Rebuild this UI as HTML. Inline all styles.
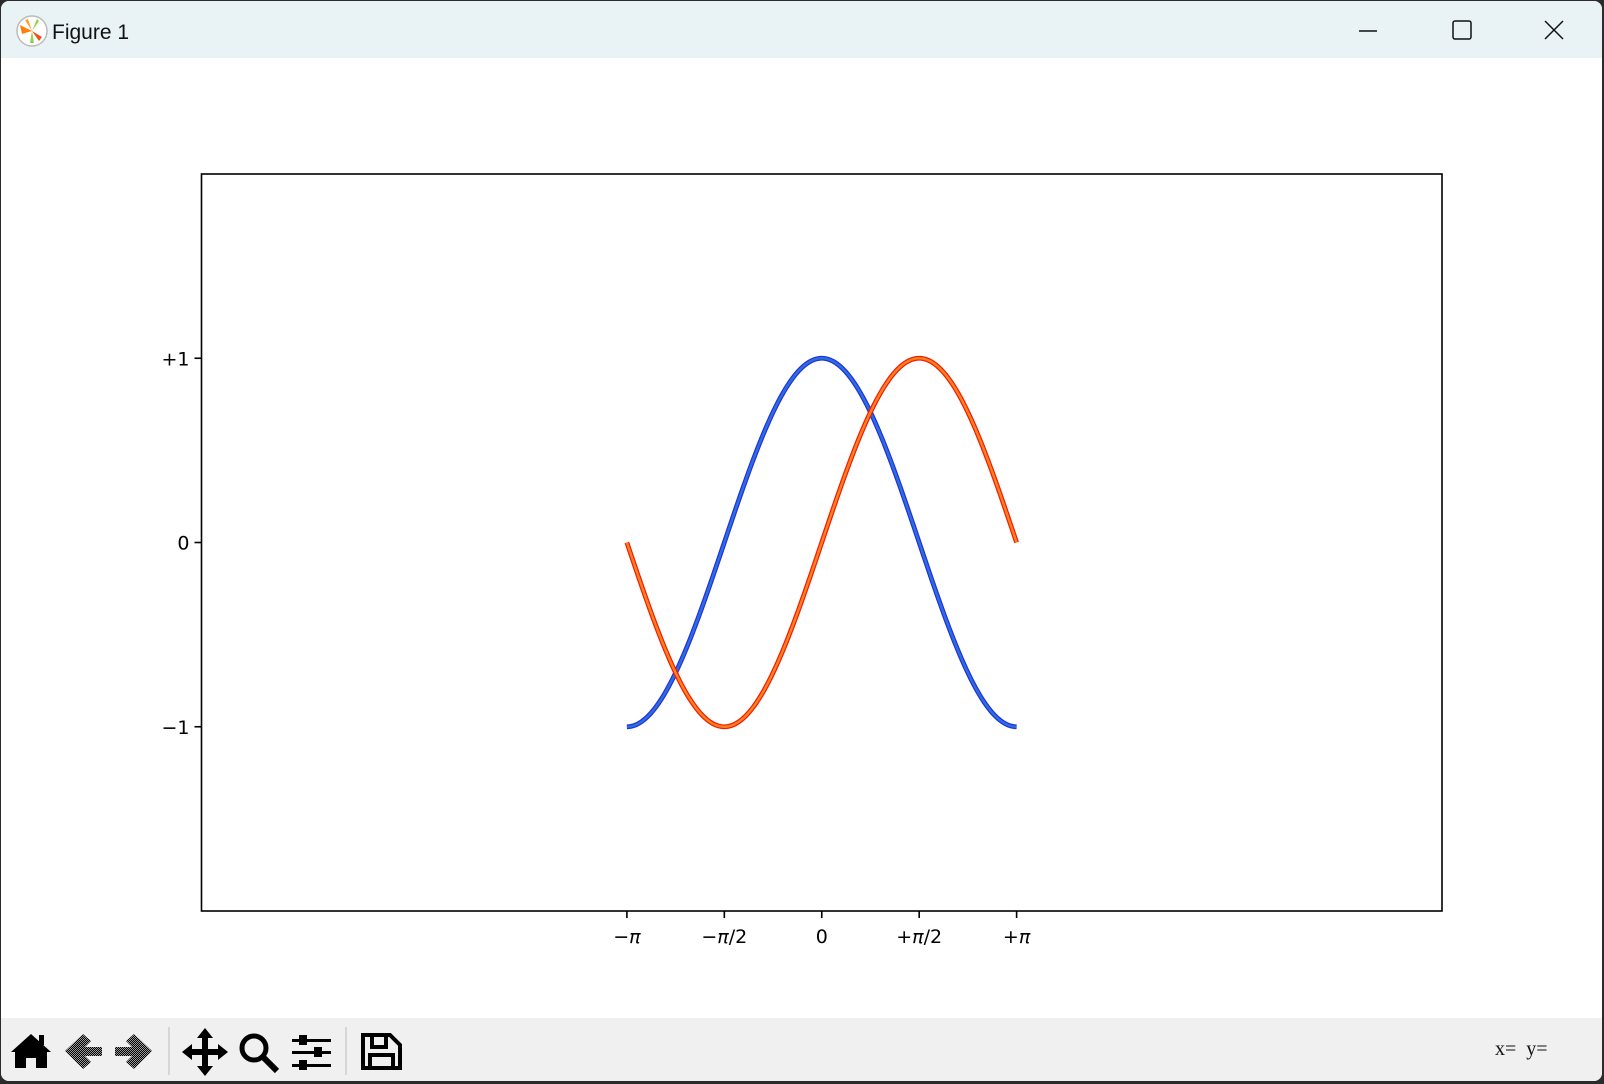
<!DOCTYPE html>
<html><head><meta charset="utf-8"><style>
html,body{margin:0;padding:0;width:1604px;height:1084px;overflow:hidden;background:#2b2b2b;}
#win{position:absolute;left:1px;top:1px;width:1601px;height:1080px;background:#fff;border-radius:8px;overflow:hidden;}
#titlebar{position:absolute;left:0;top:0;width:100%;height:57px;background:#e9f3f6;}
#toolbar{position:absolute;left:0;top:1017px;width:100%;height:63px;background:#f0f0f0;}
.tk{font-family:"DejaVu Sans","Liberation Sans",sans-serif;}
</style></head><body>
<div id="win">
<div id="titlebar">
<svg width="1601" height="57">
<g>
<circle cx="31" cy="30" r="15" fill="#fff" stroke="#bbb" stroke-width="1.5"/>
<path d="M31 30 L19 24 L21 33 Z" fill="#ff7f0e"/><path d="M31 30 L38 40 L41 36 Z" fill="#e8541a"/>
<path d="M31 30 L29 42 L33 42 Z" fill="#8fd14f"/><path d="M31 30 L36 18 L38 20 Z" fill="#8fd14f"/>
<path d="M31 30 L24 19 L27 18 Z" fill="#ff9f2e"/>
</g>
<text x="51" y="38" style="font-family:'Liberation Sans',sans-serif" font-size="21" fill="#111">Figure 1</text>
<line x1="1358" y1="30" x2="1376" y2="30" stroke="#111" stroke-width="1.5"/>
<rect x="1452" y="20" width="18" height="18" fill="none" stroke="#111" stroke-width="1.5" rx="2"/>
<path d="M1544 20 L1562 38 M1562 20 L1544 38" stroke="#111" stroke-width="1.5"/>
</svg></div>

<svg id="plot" style="position:absolute;left:-1px;top:-1px" width="1604" height="1017">
<g id="curves"></g>
<rect x="201.5" y="174" width="1240.5" height="737" fill="none" stroke="#000" stroke-width="1.6"/>
<g id="xticks"></g><g id="yticks"></g>
</svg>

<div id="toolbar">
<svg width="1601" height="63">
<defs><pattern id="hatch" width="2" height="2" patternUnits="userSpaceOnUse"><rect width="1" height="1" fill="#000"/><rect x="1" y="1" width="1" height="1" fill="#000"/><rect x="1" width="1" height="1" fill="#999"/><rect y="1" width="1" height="1" fill="#999"/></pattern></defs>
<g><path d="M10 34 L30 16 L50 34 L46 34 L46 50 L35 50 L35 40 L25 40 L25 50 L14 50 L14 34 Z" fill="#000"/><rect x="38" y="17" width="5" height="10" fill="#000"/></g>
<path d="M64 33 L82 16 L90 23 L84 29 L101 29 L101 38 L84 38 L90 44 L82 51 Z" fill="url(#hatch)"/>
<path d="M151 33 L133 16 L125 23 L131 29 L114 29 L114 38 L131 38 L125 44 L133 51 Z" fill="url(#hatch)"/>
<line x1="168" y1="9" x2="168" y2="57" stroke="#bbb"/>
<g fill="#000"><rect x="201" y="18" width="6" height="32"/><rect x="185" y="31" width="38" height="6"/><path d="M204 10 L212 20 L196 20 Z M204 58 L212 48 L196 48 Z M181 34 L191 26 L191 42 Z M227 34 L217 26 L217 42 Z"/></g>
<g><circle cx="253" cy="30" r="12" fill="none" stroke="#000" stroke-width="5"/><line x1="262" y1="39" x2="276" y2="53" stroke="#000" stroke-width="6"/></g>
<g fill="#000"><rect x="291" y="21" width="39" height="3"/><rect x="291" y="33" width="39" height="3"/><rect x="291" y="46" width="39" height="3"/><rect x="298" y="17" width="8" height="10"/><rect x="313" y="29" width="8" height="10"/><rect x="298" y="42" width="8" height="10"/></g>
<line x1="345" y1="9" x2="345" y2="57" stroke="#bbb"/>
<g><path d="M362 17 L389 17 L399 27 L399 50 L362 50 Z" fill="none" stroke="#000" stroke-width="4"/><rect x="371" y="17" width="14" height="12" fill="none" stroke="#000" stroke-width="4"/><rect x="369" y="37" width="23" height="13" fill="none" stroke="#000" stroke-width="4"/></g>
<text x="1494" y="37" style="font-family:'Liberation Serif',serif;white-space:pre" font-size="20" fill="#111" xml:space="preserve">x=  y=</text>
</svg></div>
</div>
<script>
const xTickVals=[-Math.PI,-Math.PI/2,0,Math.PI/2,Math.PI];
const xTickLabels=["\u2212\u03c0","\u2212\u03c0/2","0","+\u03c0/2","+\u03c0"];
const yTickVals=[-1,0,1];
const yTickLabels=["\u22121","0","+1"];
const xMin=-10,xMax=10,yMin=-2,yMax=2;
const ns="http://www.w3.org/2000/svg";
const L=201.5,R=1442,T=174,B=911;
function sx(v){return L+(v-xMin)/(xMax-xMin)*(R-L);}
function sy(v){return B-(v-yMin)/(yMax-yMin)*(B-T);}
const N=256;
const xs=[];for(let i=0;i<N;i++)xs.push(-Math.PI+2*Math.PI*i/(N-1));
const cosVals=xs.map(Math.cos), sinVals=xs.map(Math.sin);
function mk(t,a){const e=document.createElementNS(ns,t);for(const k in a)e.setAttribute(k,a[k]);return e;}
const cg=document.getElementById('curves');
function draw(vals,outer,inner,name){
  const d=xs.map((x,i)=>(i?'L':'M')+sx(x).toFixed(2)+' '+sy(vals[i]).toFixed(2)).join(' ');
  const g=mk('g',{});
  
  
  g.appendChild(mk('path',{d:d,fill:'none',stroke:outer,'stroke-width':4.8}));
  g.appendChild(mk('path',{d:d,fill:'none',stroke:inner,'stroke-width':2.4}));
  cg.appendChild(g);
}
draw(cosVals,'#1f2fe6','#2e6fd6','cosine-line');
draw(sinVals,'#f21a00','#ff8020','sine-line');
function label(str,x,y,anchor){
  const t=mk('text',{x:x,y:y,'text-anchor':anchor,'font-size':19,fill:'#000','class':'tk'});
  const parts=str.split('\u03c0');
  t.appendChild(document.createTextNode(parts[0]));
  if(parts.length>1){
    const s=mk('tspan',{'font-style':'italic'});s.textContent='\u03c0';t.appendChild(s);
    t.appendChild(document.createTextNode(parts[1]));
  }
  return t;
}
const xg=document.getElementById('xticks');
xTickVals.forEach((v,i)=>{
  const x=sx(v);
  xg.appendChild(mk('line',{x1:x,y1:B,x2:x,y2:B+7,stroke:'#000','stroke-width':1.6}));
  const t=label(xTickLabels[i],x,B+32,'middle');
  
  
  xg.appendChild(t);
});
const yg=document.getElementById('yticks');
yTickVals.forEach((v,i)=>{
  const y=sy(v);
  yg.appendChild(mk('line',{x1:L,y1:y,x2:L-7,y2:y,stroke:'#000','stroke-width':1.6}));
  const t=label(yTickLabels[i],L-12,y+7,'end');
  
  
  yg.appendChild(t);
});
</script>
</body></html>
